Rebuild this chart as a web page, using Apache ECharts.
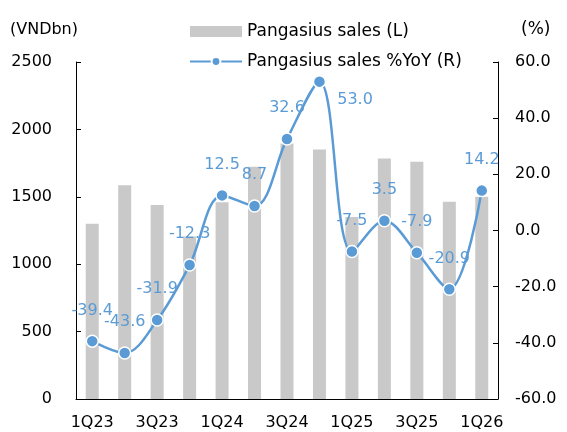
<!DOCTYPE html>
<html>
<head>
<meta charset="utf-8">
<script src="https://cdn.jsdelivr.net/npm/echarts@6/dist/echarts.min.js"></script>
<style>
html,body{margin:0;padding:0;background:#fff;}
#chart{width:567px;height:432px;}
</style>
</head>
<body>
<div id="chart"></div>
<script>
var categories = ['1Q23','2Q23','3Q23','4Q23','1Q24','2Q24','3Q24','4Q24','1Q25','2Q25','3Q25','4Q25','1Q26'];
var salesValues = [1300, 1585, 1440, 1205, 1460, 1722, 1895, 1850, 1350, 1785, 1760, 1464, 1500];
var yoyValues = [-39.4, -43.6, -31.9, -12.3, 12.5, 8.7, 32.6, 53.0, -7.5, 3.5, -7.9, -20.9, 14.2];
var seriesNames = ['Pangasius sales (L)', 'Pangasius sales %YoY (R)'];
var leftAxisName = '(VNDbn)';
var rightAxisName = '(%)';

var FONT = 'DejaVu Sans';
var BLUE = '#5B9BD5';
var GREY = '#C9C9C9';

var yoyData = yoyValues.map(function (v, i) {
  var d = { value: v };
  if (i === 7) {
    d.label = { position: 'right', distance: 11, offset: [0, 18] };
  }
  return d;
});

var chart = echarts.init(document.getElementById('chart'), null, { renderer: 'canvas' });
chart.setOption({
  animation: false,
  textStyle: { fontFamily: FONT },
  legend: {
    orient: 'vertical',
    left: 184,
    top: 18,
    itemWidth: 52,
    itemHeight: 11,
    itemGap: 13,
    textStyle: { fontFamily: FONT, fontSize: 17, color: '#000' },
    data: [
      { name: seriesNames[0], icon: 'rect' },
      { name: seriesNames[1] }
    ]
  },
  grid: { left: 76, right: 69, top: 62, bottom: 33, containLabel: false },
  xAxis: {
    type: 'category',
    data: categories,
    boundaryGap: true,
    axisLine: { show: true, lineStyle: { color: '#000', width: 1 } },
    axisTick: { show: false },
    axisLabel: { interval: 1, color: '#000', fontFamily: FONT, fontSize: 16, margin: 16 },
    splitLine: { show: false }
  },
  yAxis: [
    {
      type: 'value',
      min: 0, max: 2500, interval: 500,
      name: leftAxisName,
      nameLocation: 'end',
      nameGap: 24,
      nameTextStyle: { fontFamily: FONT, fontSize: 16, color: '#000', align: 'right', padding: [0, -2, 0, 0] },
      axisLine: { show: true, lineStyle: { color: '#000', width: 1 } },
      axisTick: { show: true, inside: true, length: 5, lineStyle: { color: '#000' } },
      axisLabel: { color: '#000', fontFamily: FONT, fontSize: 16, margin: 24,
        formatter: function (v) { return String(v); } },
      splitLine: { show: false }
    },
    {
      type: 'value',
      min: -60, max: 60, interval: 20,
      name: rightAxisName,
      nameLocation: 'end',
      nameGap: 24,
      nameTextStyle: { fontFamily: FONT, fontSize: 17, color: '#000', align: 'left', padding: [0, 0, 0, 23] },
      axisLine: { show: true, lineStyle: { color: '#000', width: 1 } },
      axisTick: { show: true, inside: true, length: 5, lineStyle: { color: '#000' } },
      axisLabel: { color: '#000', fontFamily: FONT, fontSize: 16, margin: 17,
        formatter: function (v) { return v.toFixed(1); } },
      splitLine: { show: false }
    }
  ],
  series: [
    {
      name: seriesNames[0],
      type: 'bar',
      yAxisIndex: 0,
      data: salesValues,
      barWidth: 13,
      itemStyle: { color: GREY },
      z: 1
    },
    {
      name: seriesNames[1],
      type: 'line',
      yAxisIndex: 1,
      data: yoyData,
      smooth: 0.35,
      symbol: 'circle',
      symbolSize: 12,
      showAllSymbol: true,
      lineStyle: { color: BLUE, width: 2.5 },
      itemStyle: { color: BLUE, borderColor: '#fff', borderWidth: 1.5 },
      label: {
        show: true,
        position: 'top',
        distance: 16,
        color: BLUE,
        fontFamily: FONT,
        fontSize: 16,
        formatter: function (p) { return p.value.toFixed(1); }
      },
      z: 3
    }
  ]
});
</script>
</body>
</html>
